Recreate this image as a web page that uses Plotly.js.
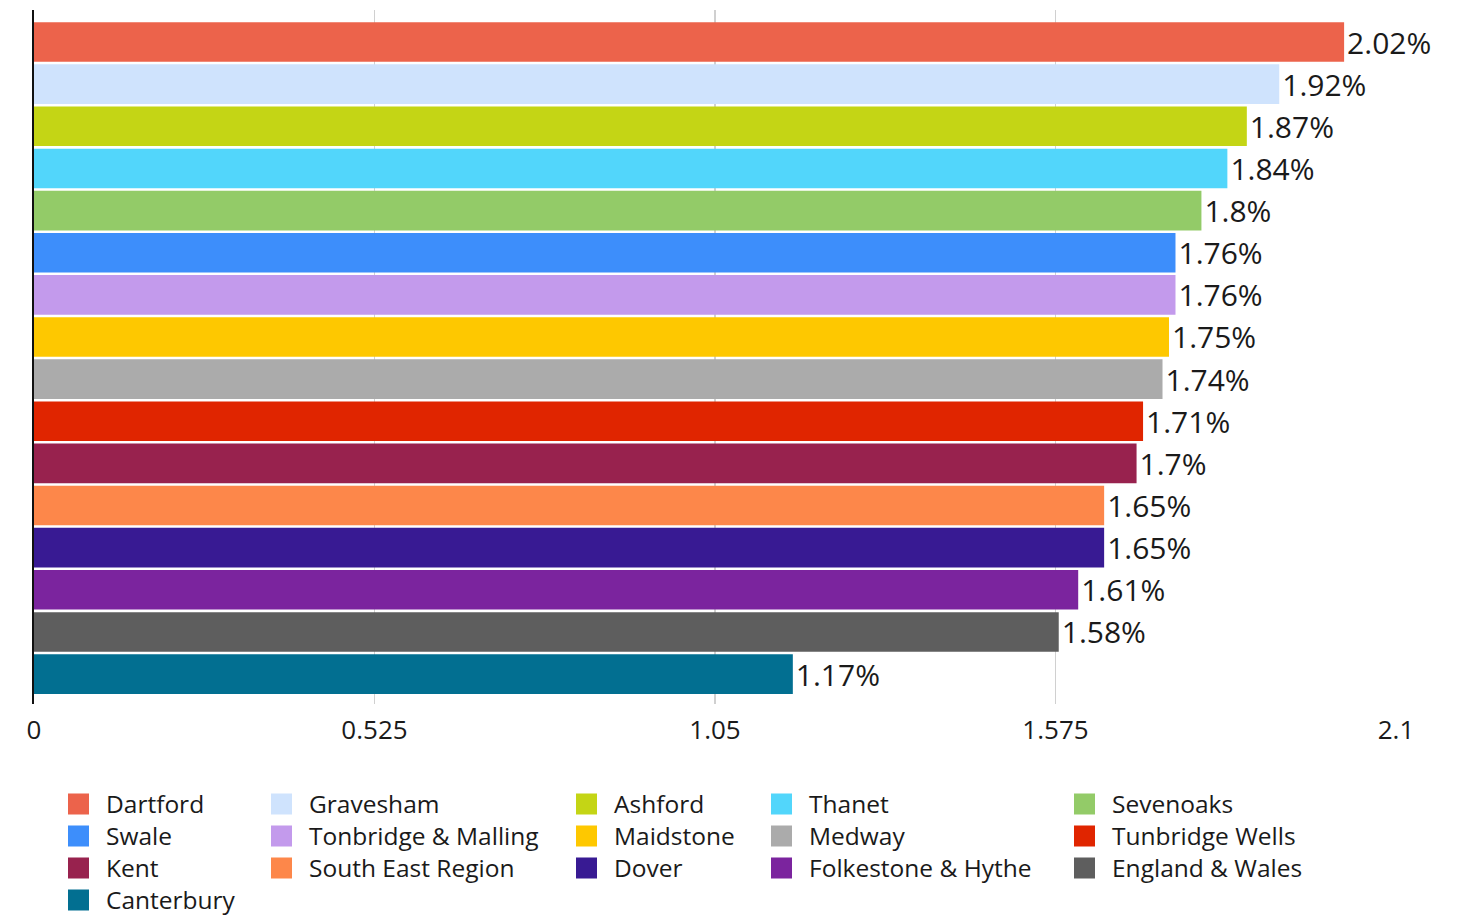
<!DOCTYPE html>
<html>
<head>
<meta charset="utf-8">
<script src="https://cdn.plot.ly/plotly-3.0.1.min.js"></script>
<style>
  html, body { margin: 0; padding: 0; background: #fff; }
  #chart { width: 1468px; height: 915px; }
</style>
</head>
<body>
<div id="chart"></div>
<script>
const categories = ["Dartford", "Gravesham", "Ashford", "Thanet", "Sevenoaks", "Swale",
  "Tonbridge & Malling", "Maidstone", "Medway", "Tunbridge Wells", "Kent",
  "South East Region", "Dover", "Folkestone & Hythe", "England & Wales", "Canterbury"];
const values = [2.02, 1.92, 1.87, 1.84, 1.8, 1.76, 1.76, 1.75, 1.74, 1.71, 1.7, 1.65, 1.65, 1.61, 1.58, 1.17];
const colors = ["#EC634B", "#CFE3FD", "#C4D515", "#52D6FB", "#93CB68", "#3D8EFB",
  "#C39AEC", "#FEC800", "#ABABAB", "#E02500", "#98224E",
  "#FD874A", "#381A93", "#7B249E", "#5E5E5E", "#026F91"];
const tickVals = [0, 0.525, 1.05, 1.575, 2.1];
const tickText = ["0", "0.525", "1.05", "1.575", "2.1"];

const FONT = "'Open Sans', Lato, sans-serif";
const legendName = i => (i === 0 ? "legend" : "legend" + (i + 1));

const traces = categories.map((c, i) => ({
  type: "bar",
  orientation: "h",
  name: c,
  x: [values[i]],
  y: [c],
  marker: { color: colors[i] },
  texttemplate: "%{x}%",
  textposition: "outside",
  constraintext: "none",
  cliponaxis: false,
  textfont: { family: FONT, size: 30, color: "#1a1a1a" },
  legend: legendName(i),
  hoverinfo: "x+name"
}));

// legend grid: 5 columns, rows of 32px
const colLeft = [51, 254, 559, 754, 1057];
const rowCenter = [804, 836, 868, 900];
function legendCfg(i) {
  const col = i % 5, row = Math.floor(i / 5);
  return {
    x: colLeft[col] / 1468, xref: "container", xanchor: "left",
    y: 1 - rowCenter[row] / 915, yref: "container", yanchor: "middle",
    orientation: "v",
    font: { family: FONT, size: 24.5, color: "#1a1a1a" },
    itemwidth: 45,
    bgcolor: "rgba(0,0,0,0)"
  };
}

const layout = {
  width: 1468, height: 915,
  margin: { l: 34, r: 72, t: 10, b: 211, autoexpand: false },
  paper_bgcolor: "#fff", plot_bgcolor: "#fff",
  font: { family: FONT, color: "#1a1a1a" },
  barmode: "overlay",
  bargap: 0.06,
  showlegend: true,
  xaxis: {
    range: [0, 2.1],
    tickmode: "array", tickvals: tickVals, ticktext: tickText,
    showgrid: true, gridcolor: "#d0d0d0", gridwidth: 1.5,
    zeroline: false, showline: false,
    ticks: "", tickfont: { family: FONT, size: 26, color: "#1a1a1a" },
    ticklabelstandoff: 8,
    automargin: false,
    fixedrange: true
  },
  yaxis: {
    type: "category",
    categoryorder: "array", categoryarray: categories,
    range: [15.71, -0.76],
    showticklabels: false, ticks: "",
    showgrid: false, zeroline: false,
    showline: true, linecolor: "#111", linewidth: 2,
    automargin: false,
    fixedrange: true
  }
};
categories.forEach((c, i) => { layout[legendName(i)] = legendCfg(i); });

Plotly.newPlot("chart", traces, layout, { displayModeBar: false, staticPlot: true }).then(() => {
  document.querySelectorAll(".legendpoints path").forEach(p => {
    p.setAttribute("d", "M10.5,10.5H-10.5V-10.5H10.5Z");
  });
});
</script>
</body>
</html>
